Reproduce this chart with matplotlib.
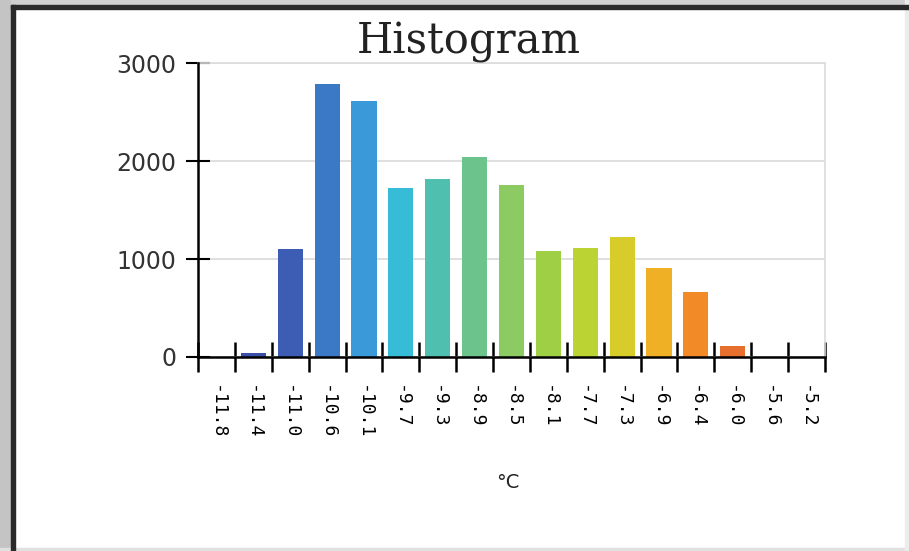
import matplotlib.pyplot as plt
from matplotlib.patches import Rectangle

# categorias (centro de cada classe) e contagens
rotulos = ['-11.8', '-11.4', '-11.0', '-10.6', '-10.1', '-9.7', '-9.3', '-8.9', '-8.5',
           '-8.1', '-7.7', '-7.3', '-6.9', '-6.4', '-6.0', '-5.6', '-5.2']
contagens = [0, 40, 1100, 2790, 2610, 1720, 1820, 2040, 1755,
             1085, 1115, 1225, 912, 665, 115, 0, 0]
cores = ['#3a4fa6', '#3a50a8', '#3d5db5', '#3b78c6', '#3a9ad9', '#36bcd6', '#4fbfb0',
         '#6cc48c', '#8cca62', '#9fcf45', '#bcd334', '#d8cc2a', '#f0b025', '#f28a28',
         '#e8702e', '#e8702e', '#e8702e']

fig = plt.figure(figsize=(9.09, 5.51), dpi=100)
ax = fig.add_axes([198 / 909, 1 - 357 / 551, 627 / 909, 294 / 551])

x = list(range(len(rotulos)))
ax.bar(x, contagens, width=0.68, color=cores, zorder=3)

### eixos estilo "Excel": marcas nas fronteiras das classes, rótulos no centro
ax.set_xlim(-0.5, len(rotulos) - 0.5)
ax.set_ylim(0, 3000)
ax.set_yticks([0, 1000, 2000, 3000])
ax.set_xticks([i - 0.5 for i in range(len(rotulos) + 1)])
ax.set_xticklabels([])
ax.set_xticks(x, minor=True)
ax.set_xticklabels(rotulos, minor=True, rotation=-90, fontsize=13, family='DejaVu Sans Mono')
ax.tick_params(axis='x', which='minor', length=0, pad=20)
ax.tick_params(axis='x', which='major', direction='inout', length=21, width=1.8)
ax.tick_params(axis='y', direction='inout', length=17, width=1.5, labelsize=17, pad=7)
for t in ax.get_yticklabels():
    t.set_color('#333333')

ax.grid(axis='y', color='#d9d9d9', linewidth=1.2, zorder=0)
for lado in ['top', 'right']:
    ax.spines[lado].set_color('#dcdcdc')
    ax.spines[lado].set_linewidth(1.2)
for lado in ['left', 'bottom']:
    ax.spines[lado].set_color('black')
    ax.spines[lado].set_linewidth(1.8)
    ax.spines[lado].set_zorder(4)

fig.text(469 / 909, 1 - 42 / 551, 'Histogram', ha='center', va='center',
         fontsize=30, family='DejaVu Serif', color='#222222')
fig.text(508 / 909, 1 - 483 / 551, '°C', ha='center', va='center', fontsize=14,
         color='#222222')

#### moldura da janela capturada
fig.patches.append(Rectangle((0, 0), 11 / 909, 1, transform=fig.transFigure,
                             color='#c4c4c4', zorder=0))
fig.patches.append(Rectangle((11 / 909, 0), 4 / 909, 1 - 5 / 551, transform=fig.transFigure,
                             color='#2a2a2a', zorder=1))
fig.patches.append(Rectangle((11 / 909, 1 - 5 / 551), 1, 5 / 551, transform=fig.transFigure,
                             color='#d0d0d0', zorder=0))
fig.patches.append(Rectangle((11 / 909, 1 - 9 / 551), 1, 4 / 551, transform=fig.transFigure,
                             color='#2a2a2a', zorder=1))
fig.patches.append(Rectangle((0, 0), 1, 3 / 551, transform=fig.transFigure,
                             color='#e0e0e0', zorder=0))
fig.patches.append(Rectangle((1 - 4 / 909, 0), 4 / 909, 1, transform=fig.transFigure,
                             color='#ececec', zorder=0))

fig.savefig('out.png', dpi=100)
